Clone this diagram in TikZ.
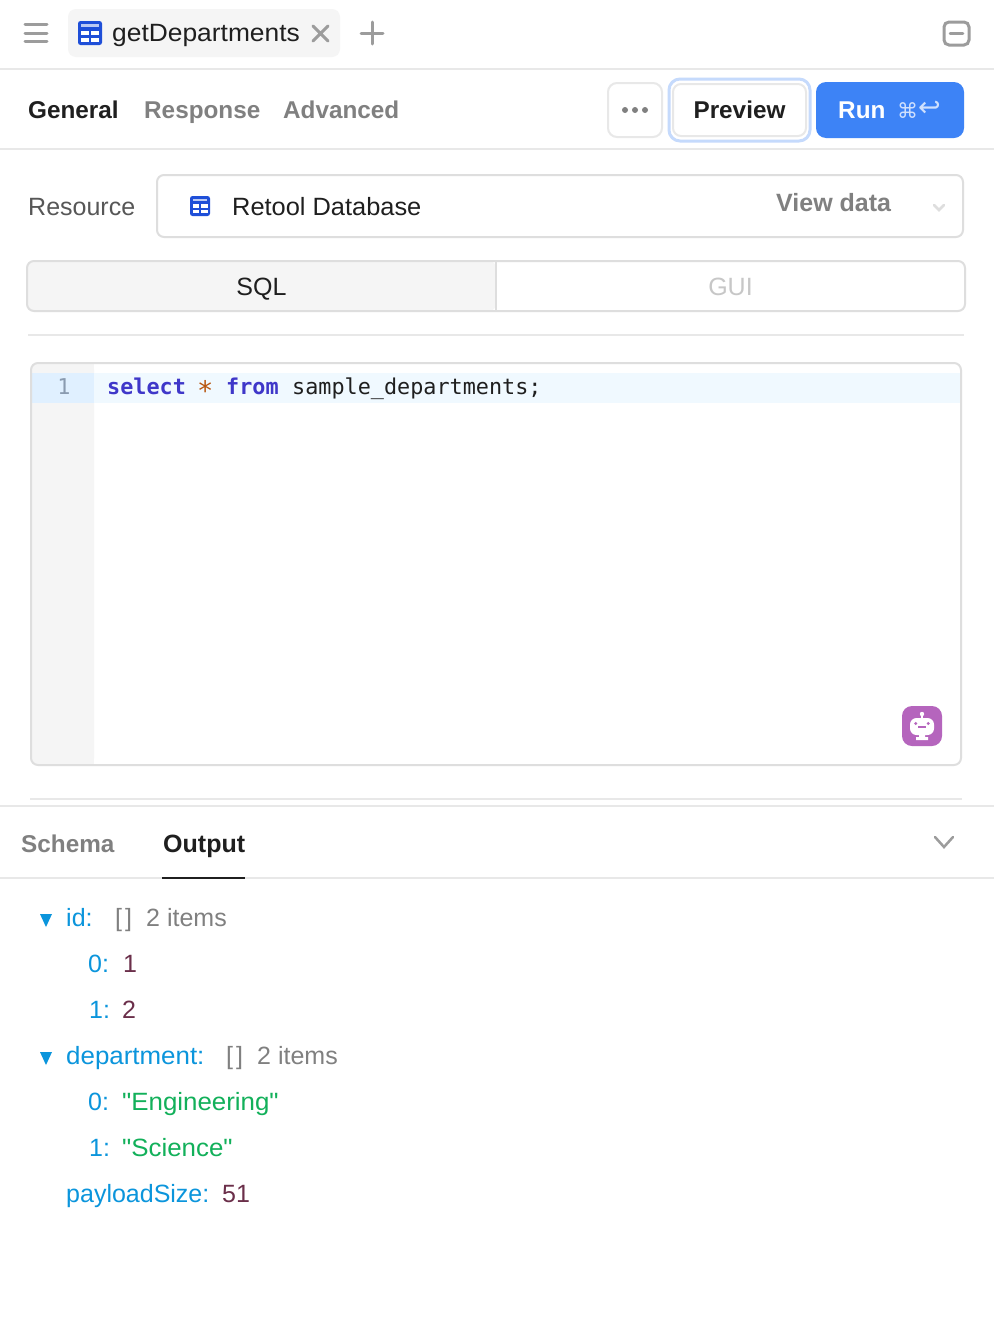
\documentclass[tikz,border=0pt]{standalone}
\usepackage{fontspec}
\setmainfont{Liberation Sans}
\newfontfamily\rawfont{Liberation Sans}
\newfontfamily\codefont{DejaVu Sans Mono}
\newfontfamily\symfont{DejaVu Sans}
\definecolor{rule}{HTML}{E8E8E8}
\definecolor{edge}{HTML}{DEDEDE}
\definecolor{panel}{HTML}{F5F5F5}
\definecolor{ink}{HTML}{1F1F1F}
\definecolor{dim}{HTML}{808080}
\definecolor{stroke}{HTML}{9C9C9C}
\definecolor{iconblue}{HTML}{1F4FD8}
\definecolor{runblue}{HTML}{3D83F6}
\definecolor{keyblue}{HTML}{0B95DC}
\definecolor{numred}{HTML}{6B2F4A}
\definecolor{strgreen}{HTML}{12B05A}
\definecolor{sqlkw}{HTML}{3F37C9}
\definecolor{sqlop}{HTML}{B8560F}
\definecolor{lineno}{HTML}{8A9BB0}
\definecolor{activeline}{HTML}{F0F9FF}
\definecolor{activegutter}{HTML}{E0F0FF}
\definecolor{bot}{HTML}{B565BD}
\tikzset{x=1pt,y=-1pt,
	txt/.style={anchor=base west,inner sep=0pt,font=\fontsize{25}{30}\selectfont},
	wide/.style={txt,font=\fontsize{25}{30}\selectfont\addfontfeature{FakeStretch=#1}},
	tab/.style={txt,font=\fontsize{24.3}{30}\selectfont\bfseries,text=dim},
	tabon/.style={tab,text=ink},
	key/.style={txt,text=keyblue},
	num/.style={txt,text=numred},
	str/.style={txt,text=strgreen,font=\fontsize{25}{30}\selectfont\rawfont\addfontfeature{FakeStretch=1.035}},
	note/.style={txt,text=dim},
	code/.style={txt,font=\fontsize{21.8}{28}\selectfont\codefont},
	hair/.style={draw=rule,line width=2pt},
	box/.style={draw=edge,line width=2pt,rounded corners=7pt},
	glyph/.style={draw=stroke,line width=3pt,line cap=round},
	fold/.style={fill=keyblue,draw=none}}
\newcommand{\tableicon}[3]{% x, y, size
	\fill[iconblue,rounded corners=2.5pt] (#1,#2) rectangle ++(#3,#3);
	\fill[white,opacity=.7] (#1+.13*#3,#2+.13*#3) rectangle ++(.74*#3,.14*#3);
	\foreach \cx in {.13,.56} \foreach \cy in {.42,.69}
		\fill[white] (#1+\cx*#3,#2+\cy*#3) rectangle ++(.32*#3,.17*#3);
}
\begin{document}
\begin{tikzpicture}
	\useasboundingbox (0,0) rectangle (994,1336);
	\fill[white] (0,0) rectangle (994,1336);

	\foreach \gy in {24,33,41}
		\draw[glyph] (25,\gy) -- (47,\gy);
	\fill[panel,rounded corners=8pt] (68,9) rectangle (340,57);
	\tableicon{78}{21}{24}
	\node[wide=1.055,text=ink] (query) at (112,41) {getDepartments};
	\draw[glyph] (313,26) -- (328,41) (328,26) -- (313,41);
	\draw[glyph] (372,22) -- (372,44) (361,33) -- (383,33);
	\draw[glyph,rounded corners=5pt] (944,22) rectangle (969,45);
	\draw[glyph,line width=2.5pt] (950,33.5) -- (963,33.5);
	\draw[hair] (0,69) -- (994,69);

	\node[tabon] (general) at (28,118) {General};
	\node[tab] (response) at (144,118) {Response};
	\node[tab] (advanced) at (283,118) {Advanced};
	\draw[draw=rule,fill=white,line width=2pt,rounded corners=9pt] (608,83) rectangle (662,137);
	\foreach \dx in {625,635,645}
		\fill[dim] (\dx,110) circle (3pt);
	\draw[draw=runblue!30,fill=white,line width=3pt,rounded corners=11pt] (669,79) rectangle (810,141);
	\draw[draw=rule,line width=2pt,rounded corners=8pt] (673,84) rectangle (806,136);
	\node[tabon,anchor=base] (preview) at (739.5,118) {Preview};
	\fill[runblue,rounded corners=10pt] (816,82) rectangle (964,138);
	\node[tab,text=white] (run) at (838,118) {Run};
	\node[txt,text=white!75!runblue,font=\fontsize{21}{24}\selectfont\symfont] (command) at (897,118) {⌘};
	\node[txt,text=white!75!runblue,font=\fontsize{27}{30}\selectfont\symfont] (enter) at (918,116) {↩};
	\draw[hair] (0,149) -- (994,149);

	\node[txt,text=ink!75] (resource) at (28,215) {Resource};
	\draw[box] (157,175) rectangle (963,237);
	\tableicon{190}{196}{20}
	\node[wide=1.016,text=ink] (database) at (232,215) {Retool Database};
	\node[tab,font=\fontsize{25}{30}\selectfont\bfseries] (viewdata) at (776,211) {View data};
	\draw[draw=edge,line width=2.5pt,line cap=round] (934,205) -- (939,210) -- (944,205);

	\fill[panel,rounded corners=7pt] (27,261) rectangle (496,311);
	\draw[box] (27,261) rectangle (965,311);
	\draw[draw=edge,line width=2pt] (496,261) -- (496,311);
	\node[txt,text=ink,anchor=base] (sql) at (261.5,295) {SQL};
	\node[txt,text=black!22,anchor=base] (gui) at (730.5,295) {GUI};
	\draw[hair] (28,335) -- (964,335);

	\fill[panel,rounded corners=7pt] (31,363) rectangle (94,765);
	\fill[panel] (60,363) rectangle (94,765);
	\fill[activegutter] (31,373) rectangle (94,403);
	\fill[activeline] (94,373) rectangle (961,403);
	\draw[box] (31,363) rectangle (961,765);
	\node[code,text=lineno,anchor=base] (number) at (64,394) {1};
	\node[code,text=sqlkw] (select) at (107,394) {\bfseries select};
	\node[code,text=sqlop,font=\fontsize{27}{28}\selectfont\codefont] (star) at (197,400) {*};
	\node[code,text=sqlkw] (from) at (226,394) {\bfseries from};
	\node[code,text=ink] (table) at (292,394) {sample\_departments;};

	\fill[bot,rounded corners=10pt] (902,706) rectangle (942,746);
	\fill[white] (922,714) circle (2.2pt);
	\fill[white] (921,714) rectangle (923,720);
	\fill[white,rounded corners=6.5pt] (910,718) rectangle (934,735);
	\fill[white] (919,734) rectangle (925,738) (916,737) rectangle (928,740);
	\fill[bot] (915.7,723.5) circle (1.6pt) (928.3,723.5) circle (1.6pt);
	\fill[bot] (918,726) rectangle (925.5,727.5);

	\draw[hair] (30,799) -- (962,799);
	\draw[hair] (0,806) -- (994,806);
	\node[tab] (schema) at (21,852) {Schema};
	\node[tabon,font=\fontsize{25}{30}\selectfont\bfseries] (output) at (163,852) {Output};
	\draw[glyph,line width=2.5pt] (935,837) -- (944,847) -- (953,837);
	\draw[hair] (0,878) -- (994,878);
	\draw[draw=ink,line width=2pt] (162,878) -- (245,878);

	\fill[fold] (40,914) -- (52,914) -- (46,927) -- cycle;
	\node[key] (idkey) at (66,926) {id:};
	\node[note] (idtype) at (115,926) {[\kern3pt]};
	\node[note] (idcount) at (146,926) {2 items};
	\node[key] (idzero) at (88,972) {0:};
	\node[num] (idone) at (123,972) {1};
	\node[key] (idsecond) at (89,1018) {1:};
	\node[num] (idtwo) at (122,1018) {2};
	\fill[fold] (40,1052) -- (52,1052) -- (46,1065) -- cycle;
	\node[wide=1.036,text=keyblue] (deptkey) at (66,1064) {department:};
	\node[note] (depttype) at (226,1064) {[\kern3pt]};
	\node[note] (deptcount) at (257,1064) {2 items};
	\node[key] (deptzero) at (88,1110) {0:};
	\node[str] (engineering) at (122,1110) {"Engineering"};
	\node[key] (deptsecond) at (89,1156) {1:};
	\node[str] (science) at (122,1156) {"Science"};
	\node[key] (payload) at (66,1202) {payloadSize:};
	\node[num] (size) at (222,1202) {51};
\end{tikzpicture}
\end{document}
